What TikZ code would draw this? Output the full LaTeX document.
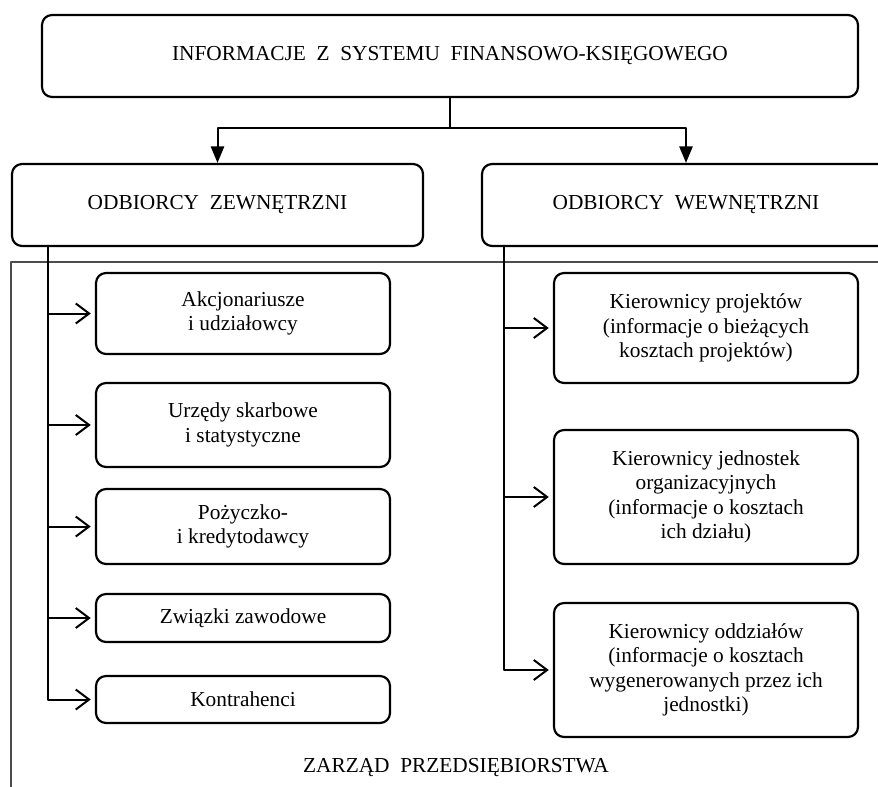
\documentclass[tikz,border=0pt]{standalone}
\usepackage{fontspec}
\setmainfont{Liberation Serif}
\usetikzlibrary{arrows.meta}

\begin{document}
\begin{tikzpicture}[x=0.6pt,y=-0.6pt,line join=round,
    box/.style={draw,line width=1.3pt,rounded corners=6pt,align=center,
      inner sep=2pt,font=\fontsize{12.8}{14.6}\selectfont},
    leftbox/.style={box,minimum width=176.4pt},
    rightbox/.style={box,minimum width=182.4pt},
    branch/.style={line width=1.2pt,-{Triangle[length=10pt,width=8pt]}},
    feed/.style={line width=1.2pt,shorten >=2.5pt,
      -{Straight Barb[length=8pt,width=12pt,line width=1.2pt]}}]
  \clip (0,0) rectangle (878,787);
  % frame of the management area
  \draw[black!70,line width=0.8pt] (11,262) rectangle (900,820);

  \node[box,minimum width=489.6pt,minimum height=49.2pt] (info) at (450,56)
    {INFORMACJE~~Z~~SYSTEMU~~FINANSOWO-KSIĘGOWEGO};
  \node[box,minimum width=246.6pt,minimum height=49.2pt] (zewn) at (217.5,205)
    {ODBIORCY~~ZEWNĘTRZNI};
  \node[box,minimum width=244.8pt,minimum height=49.2pt] (wewn) at (686,205)
    {ODBIORCY~~WEWNĘTRZNI};

  % external receivers
  \node[leftbox,minimum height=48.6pt] (akcj) at (243,313.5) {Akcjonariusze\\i udziałowcy};
  \node[leftbox,minimum height=50.4pt] (urzedy) at (243,425) {Urzędy skarbowe\\i statystyczne};
  \node[leftbox,minimum height=45pt] (pozycz) at (243,526.5) {Pożyczko-\\i kredytodawcy};
  \node[leftbox,minimum height=28.8pt] (zwiazki) at (243,618) {Związki zawodowe};
  \node[leftbox,minimum height=28.2pt] (kontr) at (243,699.5) {Kontrahenci};

  % internal receivers
  \node[rightbox,minimum height=66pt] (kproj) at (706,328)
    {Kierownicy projektów\\(informacje o bieżących\\kosztach projektów)};
  \node[rightbox,minimum height=80.4pt] (kjedn) at (706,497)
    {Kierownicy jednostek\\organizacyjnych\\(informacje o kosztach\\ich działu)};
  \node[rightbox,minimum height=80.4pt] (koddz) at (706,670)
    {Kierownicy oddziałów\\(informacje o kosztach\\wygenerowanych przez ich\\jednostki)};

  \node[font=\fontsize{12.8}{14.6}\selectfont] (zarzad) at (456,768)
    {ZARZĄD~~PRZEDSIĘBIORSTWA};

  % connectors
  \coordinate (fork) at (450,128);
  \draw[line width=0.7pt] (info.south) -- (fork);
  \draw[branch] (fork) -| (zewn.north);
  \draw[branch] (fork) -| (wewn.north);

  \coordinate (trunkL) at (48,246);
  \draw[feed] (trunkL) |- (kontr.west);
  \foreach \b in {akcj,urzedy,pozycz,zwiazki}
    \draw[feed] (trunkL |- \b.west) -- (\b.west);

  \coordinate (trunkR) at (504,246);
  \draw[feed] (trunkR) |- (koddz.west);
  \foreach \b in {kproj,kjedn}
    \draw[feed] (trunkR |- \b.west) -- (\b.west);
\end{tikzpicture}
\end{document}
